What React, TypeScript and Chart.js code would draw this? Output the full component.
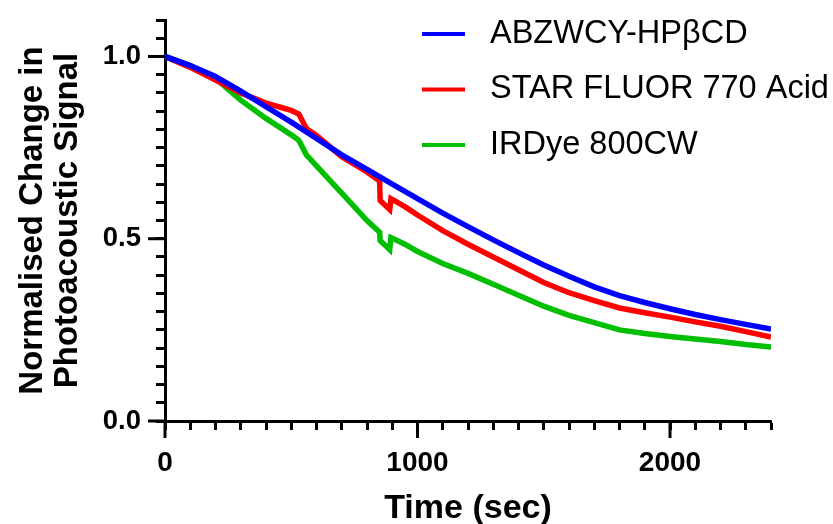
import React, { useEffect, useRef } from 'react';
import { Chart, registerables } from 'chart.js';

Chart.register(...registerables);

const seriesLabels = ['ABZWCY-HPβCD', 'STAR FLUOR 770 Acid', 'IRDye 800CW'];
const seriesColors = ['#0000FF', '#FF0000', '#00BF00'];

const blueTime = [0, 100, 200, 300, 400, 500, 600, 700, 800, 900, 1000, 1100, 1200, 1300, 1400, 1500, 1600, 1700, 1800, 1900, 2000, 2100, 2200, 2300, 2400];
const blueValue = [1.0, 0.975, 0.945, 0.905, 0.862, 0.82, 0.775, 0.73, 0.69, 0.65, 0.61, 0.57, 0.533, 0.497, 0.462, 0.428, 0.397, 0.368, 0.344, 0.325, 0.308, 0.292, 0.278, 0.265, 0.252];

const redTime = [0, 100, 200, 300, 400, 450, 500, 530, 560, 600, 700, 800, 850, 852, 890, 895, 950, 1000, 1100, 1200, 1300, 1400, 1500, 1600, 1700, 1800, 1900, 2000, 2100, 2200, 2300, 2400];
const redValue = [1.0, 0.97, 0.935, 0.9, 0.872, 0.862, 0.852, 0.842, 0.802, 0.783, 0.725, 0.683, 0.658, 0.605, 0.58, 0.61, 0.588, 0.565, 0.522, 0.485, 0.45, 0.415, 0.38, 0.352, 0.33, 0.31, 0.297, 0.285, 0.272, 0.26, 0.245, 0.23];

const greenTime = [0, 100, 200, 300, 400, 500, 530, 560, 600, 700, 800, 850, 852, 890, 895, 950, 1000, 1100, 1200, 1300, 1400, 1500, 1600, 1700, 1800, 1900, 2000, 2100, 2200, 2300, 2400];
const greenValue = [1.0, 0.975, 0.94, 0.88, 0.83, 0.785, 0.77, 0.73, 0.7, 0.625, 0.55, 0.518, 0.495, 0.47, 0.503, 0.485, 0.465, 0.432, 0.405, 0.375, 0.345, 0.315, 0.29, 0.27, 0.25, 0.24, 0.232, 0.225, 0.218, 0.21, 0.203];

const xMajorTicks = [0, 1000, 2000];
const yMajorTicks = [0, 0.5, 1.0];

const FONT = '"Liberation Sans", Arial, Helvetica, sans-serif';

const toPoints = (t: number[], v: number[]) => t.map((x, i) => ({ x, y: v[i] }));

const extrasPlugin = {
  id: 'extras',
  afterDraw(chart: any) {
    const { ctx, chartArea } = chart;
    const xs = chart.scales.x;
    const ys = chart.scales.y;
    ctx.save();
    ctx.strokeStyle = '#000';
    ctx.lineWidth = 3;
    ctx.lineCap = 'butt';
    xMajorTicks.forEach((v) => {
      const px = xs.getPixelForValue(v);
      ctx.beginPath();
      ctx.moveTo(px, chartArea.bottom);
      ctx.lineTo(px, chartArea.bottom + 17);
      ctx.stroke();
    });
    yMajorTicks.forEach((v) => {
      const py = ys.getPixelForValue(v);
      ctx.beginPath();
      ctx.moveTo(chartArea.left, py);
      ctx.lineTo(chartArea.left - 17, py);
      ctx.stroke();
    });
    ctx.font = '32.5px ' + FONT;
    ctx.textBaseline = 'middle';
    ctx.textAlign = 'left';
    chart.data.datasets.forEach((ds: any, i: number) => {
      const yy = 34 + i * 55.5;
      ctx.strokeStyle = ds.borderColor;
      ctx.lineWidth = 4;
      ctx.beginPath();
      ctx.moveTo(422, yy);
      ctx.lineTo(465, yy);
      ctx.stroke();
      ctx.fillStyle = '#000';
      ctx.fillText(ds.label, 490, yy);
    });
    ctx.restore();
  },
};

export default function App() {
  const ref = useRef<HTMLCanvasElement | null>(null);
  useEffect(() => {
    if (!ref.current) return;
    const series = [
      toPoints(blueTime, blueValue),
      toPoints(redTime, redValue),
      toPoints(greenTime, greenValue),
    ];
    const chart = new Chart(ref.current, {
      type: 'line',
      data: {
        datasets: series.map((data, i) => ({
          label: seriesLabels[i],
          data,
          borderColor: seriesColors[i],
          backgroundColor: seriesColors[i],
          borderWidth: 5.5,
          pointRadius: 0,
          tension: 0,
          fill: false,
        })),
      },
      options: {
        responsive: false,
        animation: false,
        layout: { padding: { left: 0, right: 62, top: 20, bottom: 0 } },
        plugins: { legend: { display: false }, tooltip: { enabled: false } },
        scales: {
          x: {
            type: 'linear',
            min: 0,
            max: 2400,
            ticks: {
              stepSize: 100,
              autoSkip: false,
              maxRotation: 0,
              color: '#000',
              padding: 16,
              font: { family: FONT, size: 28, weight: 'bold' },
              callback: (v: any) => (xMajorTicks.includes(Number(v)) ? String(v) : ''),
            },
            grid: { display: true, drawOnChartArea: false, drawTicks: true, tickLength: 9, tickWidth: 3, tickColor: '#000' },
            border: { display: true, color: '#000', width: 3 },
            title: {
              display: true,
              text: 'Time (sec)',
              color: '#000',
              font: { family: FONT, size: 34, weight: 'bold', lineHeight: 1 },
              padding: { top: 0, bottom: -2 },
            },
            afterFit: (s: any) => {
              s.height = 103;
              s.paddingLeft = 0;
              s.paddingRight = 0;
            },
          },
          y: {
            type: 'linear',
            min: 0,
            max: 1.1,
            ticks: {
              stepSize: 0.05,
              autoSkip: false,
              color: '#000',
              padding: 15,
              font: { family: FONT, size: 27.5, weight: 'bold' },
              callback: (v: any) => {
                const n = Number(v);
                return yMajorTicks.some((m) => Math.abs(m - n) < 1e-6) ? n.toFixed(1) : '';
              },
            },
            grid: { display: true, drawOnChartArea: false, drawTicks: true, tickLength: 9, tickWidth: 3, tickColor: '#000' },
            border: { display: true, color: '#000', width: 3 },
            title: {
              display: true,
              text: ['Normalised Change in', 'Photoacoustic Signal'],
              color: '#000',
              font: { family: FONT, size: 33, weight: 'bold', lineHeight: 1.06 },
              padding: { top: 15, bottom: 0 },
            },
            afterFit: (s: any) => {
              s.width = 165;
              s.paddingTop = 0;
              s.paddingBottom = 0;
            },
          },
        },
      },
      plugins: [extrasPlugin],
    });
    return () => chart.destroy();
  }, []);
  return (
    <div style={{ position: 'fixed', left: 0, top: 0, width: 833, height: 524, background: '#fff' }}>
      <canvas ref={ref} width={833} height={524} />
    </div>
  );
}
